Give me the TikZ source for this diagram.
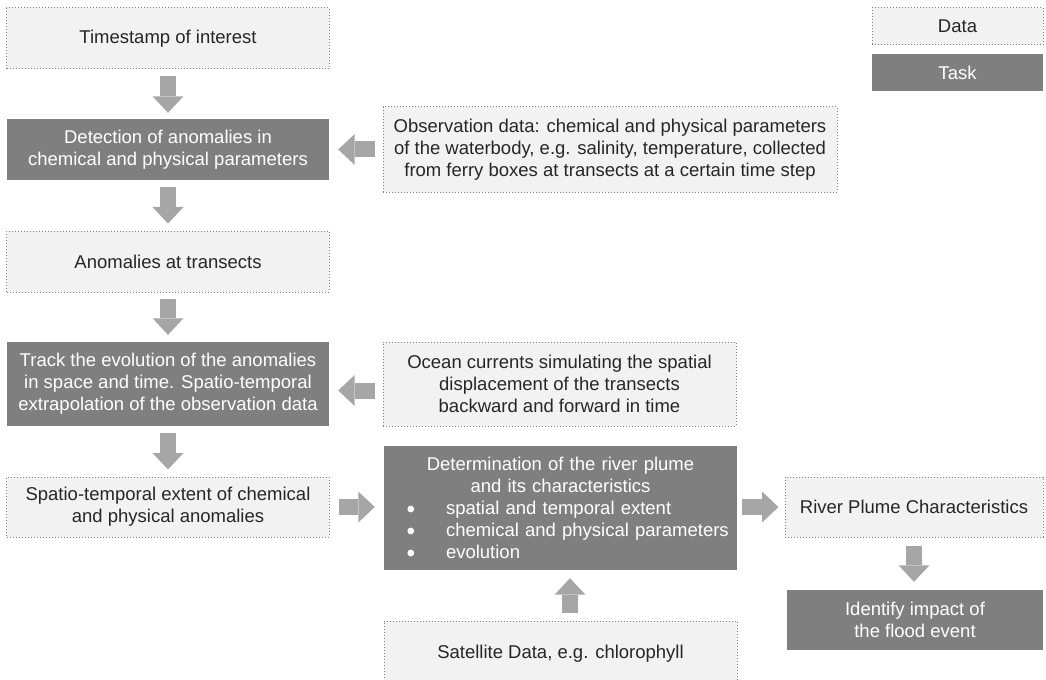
\documentclass[tikz,border=0pt]{standalone}
\usepackage{fontspec}
\setmainfont{Liberation Sans}
\usetikzlibrary{arrows.meta}
\definecolor{datafill}{HTML}{F2F2F2}
\definecolor{databorder}{HTML}{7F7F7F}
\definecolor{taskfill}{HTML}{7F7F7F}
\definecolor{arrowgray}{HTML}{A6A6A6}
\definecolor{textdark}{HTML}{262626}
% an indented list line; its dot is drawn separately
\newcommand{\plumeitem}[1]{\hspace*{62bp}#1}

\begin{document}
\begin{tikzpicture}[x=1bp,y=-1bp,
  box/.style={rectangle, inner sep=0pt, font=\fontsize{18.5bp}{22bp}\selectfont, align=center},
  databox/.style={box, fill=datafill, draw=databorder, line width=1bp, dash pattern=on 1bp off 2bp, text=textdark},
  taskbox/.style={box, fill=taskfill, text=white},
  flow/.style={draw=arrowgray, line width=16bp,
    -{Triangle[width=31bp,length=16.5bp,line width=0bp]}},
  listdot/.style={fill=white},
]
\clip (0,0) rectangle (1046,680);

% legend
\node[databox, minimum width=171bp, minimum height=37bp] (legdata) at (957.5,26.5) {Data};
\node[taskbox, minimum width=171bp, minimum height=37bp] (legtask) at (957.5,72.5) {Task};

% left column
\node[databox, minimum width=322bp, minimum height=61bp] (ts) at (168,38.5) {Timestamp of interest};
\node[taskbox, minimum width=322bp, minimum height=61bp] (det) at (168,149.5)
  {Detection of anomalies in\\chemical and physical parameters};
\node[databox, minimum width=322bp, minimum height=61bp] (anom) at (168,261.5) {Anomalies at transects};
\node[taskbox, minimum width=322bp, minimum height=84bp] (track) at (168,384)
  {Track the evolution of the anomalies\\in space and time. Spatio-temporal\\extrapolation of the observation data};
\node[databox, minimum width=322bp, minimum height=60bp] (ext) at (168,507)
  {Spatio-temporal extent of chemical\\and physical anomalies};

% middle column
\node[databox, minimum width=454bp, minimum height=85bp] (obs) at (610,149.5)
  {Observation data: chemical and physical parameters\\of the waterbody, e.g. salinity, temperature, collected\\from ferry boxes at transects at a certain time step};
\node[databox, minimum width=353bp, minimum height=84bp] (ocean) at (559.5,384)
  {Ocean currents simulating the spatial\\displacement of the transects\\backward and forward in time};
\node[taskbox, text width=353bp, minimum height=124bp, align=left] (plume) at (560.5,508)
  {\parindent=0pt{\centering Determination of the river plume\\and its characteristics\par}
   \plumeitem{spatial and temporal extent}\\
   \plumeitem{chemical and physical parameters}\\
   \plumeitem{evolution}};
\node[databox, minimum width=353bp, minimum height=66bp] (sat) at (560.5,654)
  {Satellite Data, e.g. chlorophyll};

% list dots of the plume box
\fill[listdot] ([xshift=27bp,yshift=-1bp]plume.west) circle (3.4bp);
\fill[listdot] ([xshift=27bp,yshift=-23bp]plume.west) circle (3.4bp);
\fill[listdot] ([xshift=27bp,yshift=-45bp]plume.west) circle (3.4bp);

% right column
\node[databox, minimum width=258bp, minimum height=60bp] (pc) at (914,507) {River Plume Characteristics};
\node[taskbox, minimum width=256bp, minimum height=60bp] (impact) at (915,620)
  {Identify impact of\\the flood event};

% flow arrows
\draw[flow, shorten <=7bp, shorten >=6bp] (ts) -- (det);
\draw[flow, shorten <=7bp, shorten >=7bp] (det) -- (anom);
\draw[flow, shorten <=6bp, shorten >=7bp] (anom) -- (track);
\draw[flow, shorten <=7bp, shorten >=7bp] (track) -- (ext);
\draw[flow, shorten <=8bp, shorten >=9bp] (obs) -- (det);
\draw[flow, shorten <=8bp, shorten >=9bp] ([yshift=-6.5bp]ocean.west) -- ([yshift=-6.5bp]track.east);
\draw[flow, shorten <=9bp, shorten >=9bp] (ext) -- (ext -| plume.west);
\draw[flow, shorten <=5bp, shorten >=6bp] (pc -| plume.east) -- (pc);
\draw[flow, shorten <=8bp, shorten >=8bp] (pc.south) -- (pc.south |- impact.north);
\draw[flow, shorten <=8bp, shorten >=8bp] ([xshift=9.5bp]sat.north) -- ([xshift=9.5bp]plume.south);
\end{tikzpicture}
\end{document}
